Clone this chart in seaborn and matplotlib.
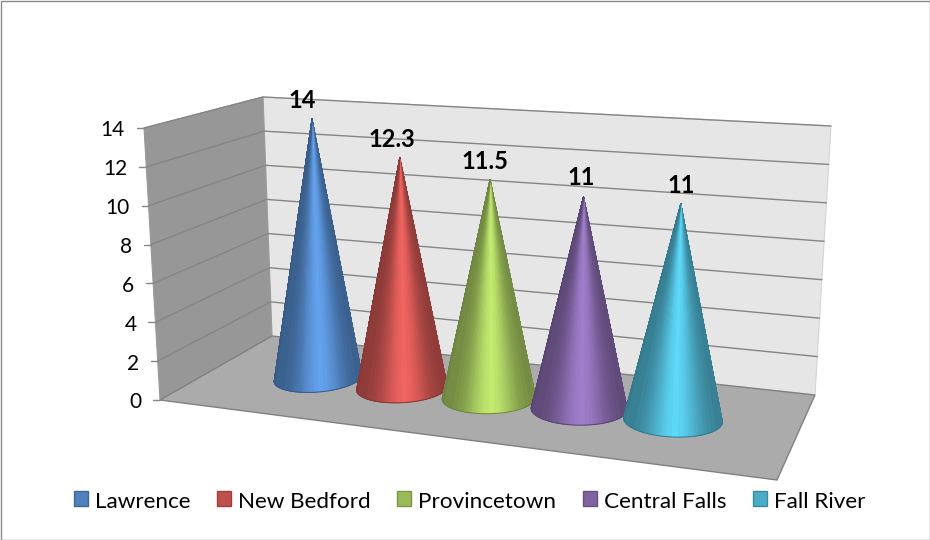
import numpy as np
import pandas as pd
import matplotlib
matplotlib.use('Agg')
import matplotlib.pyplot as plt
from matplotlib.collections import PolyCollection
from matplotlib.patches import Polygon, Rectangle
import seaborn as sns

# Data
cities = ['Lawrence', 'New Bedford', 'Provincetown', 'Central Falls', 'Fall River']
rates = [14, 12.3, 11.5, 11, 11]
rate_labels = ['14', '12.3', '11.5', '11', '11']
y_ticks = [0, 2, 4, 6, 8, 10, 12, 14]
colors = ['#4F81BD', '#C0504D', '#9BBB59', '#8064A2', '#4BACC6']
Y_MAX = 14

sns.set_theme(style='white')
plt.rcParams['font.family'] = ['Lato', 'DejaVu Sans']
palette = sns.color_palette(colors)

# Layout in image pixels
W, H = 930, 540
wall_front = ((160, 400), (144, 128))
wall_back = ((272, 336), (263, 97))
wall_right = ((815, 395), (831, 126))
floor_front_right = (777, 480)
legend_swatch_x = [74, 217, 397, 583, 753]
GRID = '#858585'

fig = plt.figure(figsize=(W / 100, H / 100), dpi=100, facecolor='white')
ax = fig.add_axes([0, 0, 1, 1])
ax.set_xlim(0, W)
ax.set_ylim(H, 0)
ax.axis('off')


def homography(src, dst):
    rows, rhs = [], []
    for (a, b), (x, y) in zip(src, dst):
        rows.append([a, b, 1, 0, 0, 0, -a * x, -b * x])
        rows.append([0, 0, 0, a, b, 1, -a * y, -b * y])
        rhs += [x, y]
    return np.append(np.linalg.solve(np.array(rows, float), np.array(rhs, float)), 1).reshape(3, 3)


# category index + value -> pixel, on the plane through the cone axes
CONE_H = homography(
    [(0, 0), (4, 0), (0, Y_MAX), (4, Y_MAX)],
    [(318, 378), (673, 420), (312, 119), (683, 142)],
)


def project(i, v):
    p = CONE_H @ np.array([i, v, 1.0])
    return p[:2] / p[2]


def along(edge, v):
    (x0, y0), (x1, y1) = edge
    t = v / Y_MAX
    return x0 + (x1 - x0) * t, y0 + (y1 - y0) * t


# Walls and floor
ax.add_patch(Polygon([wall_back[0], wall_back[1], wall_right[1], wall_right[0]],
                     fc='#e6e6e6', ec='#d4d4d4', lw=0.8, zorder=1))
ax.add_patch(Polygon([wall_front[0], wall_front[1], wall_back[1], wall_back[0]],
                     fc='#979797', ec='#9a9a9a', lw=0.8, zorder=1))
ax.add_patch(Polygon([wall_front[0], wall_back[0], wall_right[0], floor_front_right],
                     fc='#ababab', ec='#808080', lw=1.0, zorder=2))

# Gridlines wrap around left wall and back wall, with a tick in front
rows = []
for v in y_ticks:
    fx, fy = along(wall_front, v)
    bx, by = along(wall_back, v)
    rx, ry = along(wall_right, v)
    if v > 0:
        for order, (px, py) in enumerate([(fx, fy), (bx, by), (rx, ry)]):
            rows.append({'x': px, 'y': py, 'level': v, 'order': order})
    ax.text(fx - 19, fy + 2.5, str(v), ha='right', va='center', fontsize=15, color='black', zorder=6)
    ax.plot([fx - 7, fx], [fy, fy], color=GRID, lw=1.0, zorder=3)
grid_df = pd.DataFrame(rows)
sns.lineplot(data=grid_df, x='x', y='y', units='level', estimator=None, sort=False,
             color=GRID, lw=1.0, legend=False, ax=ax, zorder=3)
ax.set_xlim(0, W)
ax.set_ylim(H, 0)
ax.axis('off')


def shade(base, frac):
    # frac 0..1 across the cone: dark edges, bright band a little right of the middle
    f = 0.72 + 0.52 * np.exp(-((frac - 0.52) / 0.26) ** 2)
    f = round(f * 28) / 28
    return tuple(np.clip(np.array(base) * f, 0, 1))


# Cones
for i, (value, label) in enumerate(zip(rates, rate_labels)):
    cx, cy = project(i, 0)
    ax_, ay_ = project(i, value)
    rx, ry = 44 + 1.35 * i, 14 + 0.75 * i
    tilt = np.radians(-5 + 1.9 * i)
    th = np.linspace(0, 2 * np.pi, 721)[:-1]
    ex = cx + rx * np.cos(th) * np.cos(tilt) - ry * np.sin(th) * np.sin(tilt)
    ey = cy + rx * np.cos(th) * np.sin(tilt) + ry * np.sin(th) * np.cos(tilt)
    # tangent points as seen from the apex, joined through the near side of the base
    ang = np.arctan2(ex - ax_, ey - ay_)
    right, left = np.argmax(ang), np.argmin(ang)
    idx = np.arange(right, right + 721) % 720
    idx = idx[:np.where(idx == left)[0][0] + 1]
    arc = np.column_stack([ex[idx], ey[idx]])
    frac = (ang[idx] - ang[left]) / (ang[right] - ang[left])
    tris = [[(ax_, ay_), arc[k], arc[k + 1]] for k in range(len(arc) - 1)]
    cols = [shade(palette[i], (frac[k] + frac[k + 1]) / 2) for k in range(len(arc) - 1)]
    ax.add_collection(PolyCollection(tris, facecolors=cols, edgecolors=cols, linewidths=0.5,
                                     zorder=4 + i * 0.01))
    ax.plot(arc[:, 0], arc[:, 1], color=np.array(palette[i]) * 0.7, lw=0.7, zorder=4 + i * 0.01)
    ax.text(ax_ - 10 + 2.5 * i, ay_ - 18.5, label, ha='center', va='center',
            fontsize=17, fontweight='bold', color='black', zorder=6)

# Legend
for i, city in enumerate(cities):
    sx = legend_swatch_x[i]
    ax.add_patch(Rectangle((sx, 491), 14, 15, fc=palette[i], ec=np.array(palette[i]) * 0.8, lw=1.0, zorder=6))
    ax.text(sx + 20.5, 501.5, city, ha='left', va='center', fontsize=16.2, color='black', zorder=6)

# Outer border
ax.add_patch(Rectangle((0.5, 0.5), W - 1, H - 1, fc='none', ec='#8a8a8a', lw=1.0, zorder=7))

fig.savefig('out.png', dpi=100)
plt.close(fig)
